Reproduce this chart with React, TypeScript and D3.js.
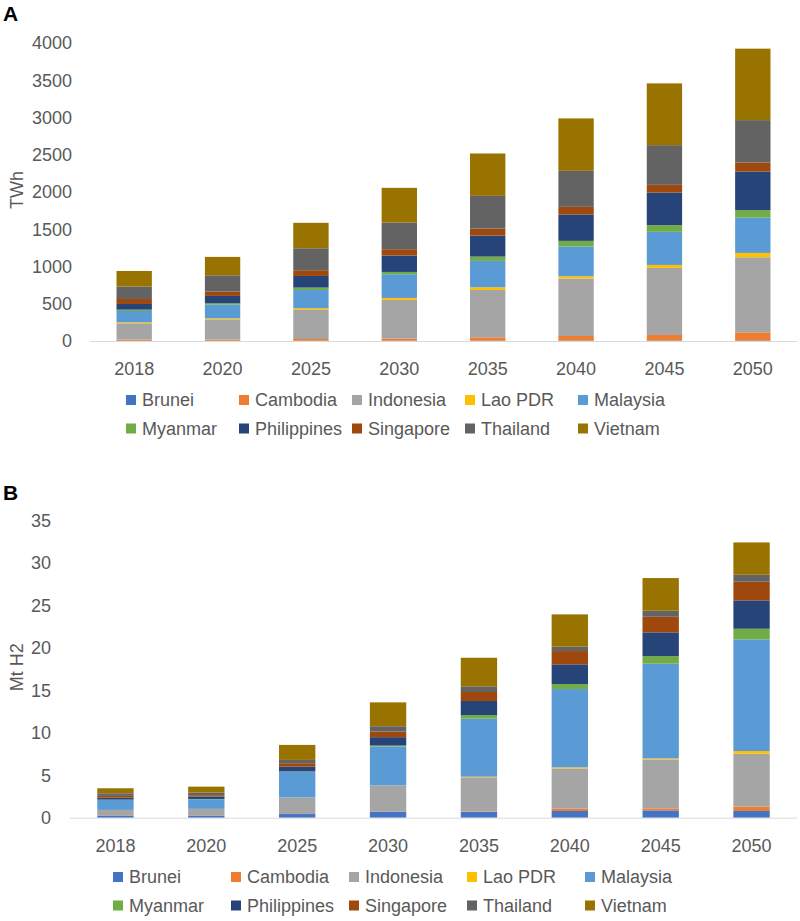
import * as d3 from 'd3';

const years = ['2018', '2020', '2025', '2030', '2035', '2040', '2045', '2050'];
const countries = [
    'Brunei',
    'Cambodia',
    'Indonesia',
    'Lao PDR',
    'Malaysia',
    'Myanmar',
    'Philippines',
    'Singapore',
    'Thailand',
    'Vietnam',
];
const countryColors = [
    '#4472C4',
    '#ED7D31',
    '#A5A5A5',
    '#FFC000',
    '#5B9BD5',
    '#70AD47',
    '#264478',
    '#9E480E',
    '#636363',
    '#997300',
];

// Electricity demand (TWh)
const twhBrunei = [3, 3, 4, 4, 5, 5, 5, 6];
const twhCambodia = [15, 15, 23, 27, 44, 62, 76, 110];
const twhIndonesia = [219, 273, 390, 520, 636, 771, 900, 1008];
const twhLao = [14, 14, 22, 27, 36, 31, 40, 58];
const twhMalaysia = [152, 183, 246, 318, 354, 399, 444, 475];
const twhMyanmar = [18, 18, 32, 31, 58, 76, 89, 99];
const twhPhilippines = [76, 99, 156, 220, 282, 354, 439, 519];
const twhSingapore = [67, 58, 77, 85, 94, 103, 103, 121];
const twhThailand = [166, 219, 295, 358, 439, 483, 533, 569];
const twhVietnam = [210, 247, 341, 466, 569, 704, 829, 959];

// Hydrogen demand (Mt H2)
const h2Brunei = [0.2, 0.2, 0.43, 0.71, 0.67, 0.79, 0.86, 0.79];
const h2Cambodia = [0.01, 0.01, 0.01, 0.02, 0.05, 0.27, 0.24, 0.51];
const h2Indonesia = [0.71, 0.83, 1.92, 3.04, 4.03, 4.75, 5.77, 6.24];
const h2Lao = [0, 0, 0.01, 0.02, 0.08, 0.12, 0.12, 0.32];
const h2Malaysia = [1.18, 1.14, 3.03, 4.6, 6.84, 9.23, 11.16, 13.15];
const h2Myanmar = [0.03, 0.03, 0.05, 0.11, 0.43, 0.59, 0.9, 1.26];
const h2Philippines = [0.24, 0.28, 0.57, 0.99, 1.65, 2.32, 2.79, 3.34];
const h2Singapore = [0.2, 0.16, 0.4, 0.66, 1.06, 1.57, 1.84, 2.2];
const h2Thailand = [0.31, 0.31, 0.39, 0.63, 0.67, 0.51, 0.71, 0.82];
const h2Vietnam = [0.59, 0.7, 1.77, 2.81, 3.37, 3.81, 3.85, 3.81];

const twhTicks = [0, 500, 1000, 1500, 2000, 2500, 3000, 3500, 4000];
const h2Ticks = [0, 5, 10, 15, 20, 25, 30, 35];

const twhSeries = [
    twhBrunei,
    twhCambodia,
    twhIndonesia,
    twhLao,
    twhMalaysia,
    twhMyanmar,
    twhPhilippines,
    twhSingapore,
    twhThailand,
    twhVietnam,
];
const h2Series = [
    h2Brunei,
    h2Cambodia,
    h2Indonesia,
    h2Lao,
    h2Malaysia,
    h2Myanmar,
    h2Philippines,
    h2Singapore,
    h2Thailand,
    h2Vietnam,
];

const FONT = "'Liberation Sans', Arial, sans-serif";
const TEXT = '#595959';

interface PanelProps {
    letter: string;
    letterY: number;
    yTitle: string;
    series: number[][];
    ticks: number[];
    plotLeft: number;
    plotRight: number;
    plotTop: number;
    plotBottom: number;
    tickRight: number;
    xLabelY: number;
    legendX: number;
    legendStep: number;
    legendY: number;
}

const Panel = ({
    letter,
    letterY,
    yTitle,
    series,
    ticks,
    plotLeft,
    plotRight,
    plotTop,
    plotBottom,
    tickRight,
    xLabelY,
    legendX,
    legendStep,
    legendY,
}: PanelProps) => {
    const rows = years.map((year, i) => {
        const row: Record<string, number | string> = { year };
        countries.forEach((c, k) => (row[c] = series[k][i]));
        return row;
    });
    const stacked = d3.stack<Record<string, number | string>>().keys(countries)(rows as any);

    const x = d3
        .scaleBand()
        .domain(years)
        .range([plotLeft, plotRight])
        .paddingInner(0.6)
        .paddingOuter(0.3);
    const y = d3
        .scaleLinear()
        .domain([0, d3.max(ticks) ?? 0])
        .range([plotBottom, plotTop]);

    const titleY = (plotTop + plotBottom) / 2 - 2;

    return (
        <g fontFamily={FONT}>
            <text x={3} y={letterY} fontSize={21} fontWeight="bold" fill="#000">
                {letter}
            </text>
            <text
                transform={`translate(23,${titleY}) rotate(-90)`}
                textAnchor="middle"
                fontSize={18}
                fill={TEXT}
            >
                {yTitle}
            </text>
            {ticks.map(t => (
                <text
                    key={t}
                    x={tickRight}
                    y={y(t)}
                    dy="0.35em"
                    textAnchor="end"
                    fontSize={18}
                    fill={TEXT}
                >
                    {t}
                </text>
            ))}
            {stacked.map((layer, k) => (
                <g key={countries[k]} fill={countryColors[k]}>
                    {layer.map((d, i) => (
                        <rect
                            key={years[i]}
                            x={x(years[i])}
                            y={y(d[1])}
                            width={x.bandwidth()}
                            height={Math.max(0, y(d[0]) - y(d[1]))}
                        />
                    ))}
                </g>
            ))}
            <line
                x1={plotLeft}
                x2={plotRight}
                y1={plotBottom + 0.5}
                y2={plotBottom + 0.5}
                stroke="#d9d9d9"
                strokeWidth={1}
            />
            {years.map(yr => (
                <text
                    key={yr}
                    x={(x(yr) ?? 0) + x.bandwidth() / 2}
                    y={xLabelY}
                    dy="0.35em"
                    textAnchor="middle"
                    fontSize={18}
                    fill={TEXT}
                >
                    {yr}
                </text>
            ))}
            {countries.map((c, i) => {
                const lx = legendX + (i % 5) * legendStep;
                const ly = legendY + Math.floor(i / 5) * 28.5;
                return (
                    <g key={c}>
                        <rect x={lx} y={ly - 5} width={10} height={10} fill={countryColors[i]} />
                        <text x={lx + 16} y={ly} dy="0.35em" fontSize={18} fill={TEXT}>
                            {c}
                        </text>
                    </g>
                );
            })}
        </g>
    );
};

export default function App() {
    return (
        <div style={{ position: 'absolute', left: 0, top: 0, background: '#fff' }}>
            <svg width={800} height={921} style={{ display: 'block' }}>
                <rect width={800} height={921} fill="#fff" />
                <Panel
                    letter="A"
                    letterY={21}
                    yTitle="TWh"
                    series={twhSeries}
                    ticks={twhTicks}
                    plotLeft={90}
                    plotRight={797}
                    plotTop={43}
                    plotBottom={341}
                    tickRight={72}
                    xLabelY={369}
                    legendX={126}
                    legendStep={113}
                    legendY={400}
                />
                <Panel
                    letter="B"
                    letterY={500}
                    yTitle="Mt H2"
                    series={h2Series}
                    ticks={h2Ticks}
                    plotLeft={70}
                    plotRight={797}
                    plotTop={520.7}
                    plotBottom={817.7}
                    tickRight={51}
                    xLabelY={846}
                    legendX={113}
                    legendStep={118}
                    legendY={877}
                />
            </svg>
        </div>
    );
}
